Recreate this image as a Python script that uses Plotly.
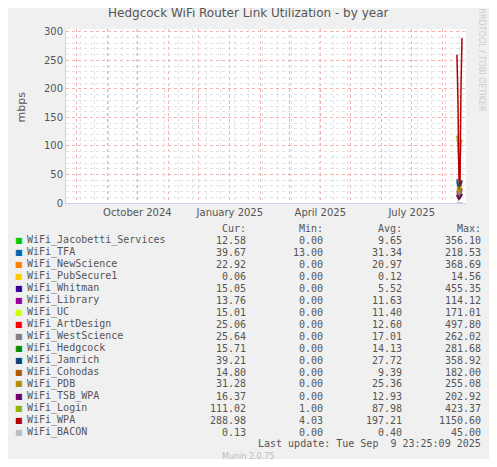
import plotly.graph_objects as go

# --- series (daily values near the end of the year window) ---
dates = ["2025-08-15", "2025-08-16", "2025-08-17", "2025-08-18", "2025-08-19", "2025-08-20"]

names = ["WiFi_Jacobetti_Services", "WiFi_TFA", "WiFi_NewScience", "WiFi_PubSecure1",
         "WiFi_Whitman", "WiFi_Library", "WiFi_UC", "WiFi_ArtDesign", "WiFi_WestScience",
         "WiFi_Hedgcock", "WiFi_Jamrich", "WiFi_Cohodas", "WiFi_PDB", "WiFi_TSB_WPA",
         "WiFi_Login", "WiFi_WPA", "WiFi_BACON"]
colors = ["#00CC00", "#0066B3", "#FF8000", "#FFCC00", "#330099", "#990099", "#CCFF00",
          "#FF0000", "#808080", "#008F00", "#00487D", "#B35A00", "#B38F00", "#6B006B",
          "#8FB300", "#B30000", "#BEBEBE"]
values = [
    [10, 9, 8, 11, 12, 12],
    [42, 35, 20, 30, 38, 40],
    [25, 22, 18, 20, 24, 23],
    [0.1, 0.1, 0.1, 0.1, 0.1, 0.1],
    [14, 10, 6, 8, 13, 15],
    [12, 11, 9, 10, 13, 14],
    [13, 11, 10, 12, 14, 15],
    [20, 15, 10, 12, 22, 25],
    [22, 18, 12, 15, 24, 26],
    [14, 12, 9, 11, 15, 16],
    [38, 30, 20, 25, 36, 39],
    [12, 10, 7, 9, 13, 15],
    [30, 28, 20, 22, 30, 31],
    [15, 12, 8, 10, 14, 16],
    [118, 100, 60, 70, 105, 111],
    [260, 180, 40, 30, 200, 289],
    [0.1, 0.1, 0.1, 0.1, 0.1, 0.1],
]
cur = ["12.58", "39.67", "22.92", "0.06", "15.05", "13.76", "15.01", "25.06", "25.64", "15.71",
       "39.21", "14.80", "31.28", "16.37", "111.02", "288.98", "0.13"]
mins = ["0.00", "13.00", "0.00", "0.00", "0.00", "0.00", "0.00", "0.00", "0.00", "0.00",
        "0.00", "0.00", "0.00", "0.00", "1.00", "4.03", "0.00"]
avgs = ["9.65", "31.34", "20.97", "0.12", "5.52", "11.63", "11.40", "12.60", "17.01", "14.13",
        "27.72", "9.39", "25.36", "12.93", "87.98", "197.21", "0.40"]
maxs = ["356.10", "218.53", "368.69", "14.56", "455.35", "114.12", "171.01", "497.80", "262.02",
        "281.68", "358.92", "182.00", "255.08", "202.92", "423.37", "1150.60", "45.00"]

# page pixels; the page body adds an 8px offset
OFF = 8
W, H = 497 - 2 * OFF, 467 - 2 * OFF
L, R, T, B = 66, 466, 29, 203


def px(x):
    return (x - L) / (R - L)


def py(y):
    return (B - y) / (B - T)


fig = go.Figure()
for n, c, v in zip(names, colors, values):
    fig.add_trace(go.Scatter(x=dates, y=v, mode="lines", line=dict(color=c, width=1.5),
                             name=n, showlegend=False))

mono = dict(family="DejaVu Sans Mono", size=10, color="#555555")
ann = []
for lbl, x in zip(["Cur:", "Min:", "Avg:", "Max:"], [248, 325, 404, 483]):
    ann.append(dict(x=px(x), y=py(228), text=lbl, xanchor="right", font=mono))
for i, n in enumerate(names):
    y = py(240 + 12 * i)
    ann.append(dict(x=px(13), y=y, text="<span style='color:%s'>■</span>" % colors[i],
                    xanchor="left", font=dict(family="DejaVu Sans", size=8)))
    ann.append(dict(x=px(25), y=y, text=n, xanchor="left", font=mono))
    for col, x in zip([cur, mins, avgs, maxs], [248, 325, 404, 483]):
        ann.append(dict(x=px(x), y=y, text=col[i], xanchor="right", font=mono))
ann.append(dict(x=px(483), y=py(443), text="Last update: Tue Sep  9 23:25:09 2025",
                xanchor="right", font=mono))
ann.append(dict(x=px(248), y=py(456), text="Munin 2.0.75", xanchor="center",
                font=dict(family="DejaVu Sans", size=8, color="#BBBBBB")))
ann.append(dict(x=px(12), y=py(107), text="mbps", textangle=-90,
                font=dict(family="DejaVu Sans", size=11, color="#555555")))
ann.append(dict(x=px(487), y=py(60), text="RRDTOOL / TOBI OETIKER", textangle=90,
                font=dict(family="DejaVu Sans", size=8, color="#CCCCCC")))
ann.append(dict(x=px(248), y=py(13), text="Hedgcock WiFi Router Link Utilization - by year",
                font=dict(family="DejaVu Sans", size=12, color="#555555")))
for a in ann:
    a.update(xref="paper", yref="paper", showarrow=False, yanchor="middle")

xr = ["2024-07-22", "2025-08-24"]
fig.update_layout(
    width=W, height=H,
    margin=dict(l=L - OFF, r=W - (R - OFF), t=T - OFF, b=H - (B - OFF)),
    paper_bgcolor="#F0F0F0", plot_bgcolor="white",
    annotations=ann,
    xaxis=dict(type="date", range=xr,
               tickvals=["2024-10-01", "2025-01-01", "2025-04-01", "2025-07-01"],
               ticktext=["October 2024", "January 2025", "April 2025", "July 2025"],
               showgrid=False, zeroline=False, showline=True, linecolor="#CCCCFF",
               tickfont=dict(family="DejaVu Sans", size=10, color="#555555"),
               minor=dict(dtick="M1", tick0="2024-08-01", showgrid=True,
                          gridcolor="#F2B0B0", griddash="dot")),
    xaxis2=dict(type="date", range=xr, overlaying="x", dtick=14 * 86400000,
                tick0="2024-07-22", showgrid=True, gridcolor="#E2E2E2", griddash="dot",
                showticklabels=False, zeroline=False),
    yaxis=dict(range=[0, 305], dtick=50, showgrid=True, gridcolor="#F2B0B0", griddash="dot",
               zeroline=False, showline=True, linecolor="#CCCCFF",
               tickfont=dict(family="DejaVu Sans", size=10, color="#555555"),
               minor=dict(dtick=10, showgrid=True, gridcolor="#E2E2E2", griddash="dot")),
)
fig.add_trace(go.Scatter(x=[xr[0]], y=[None], xaxis="x2", showlegend=False, hoverinfo="skip"))

fig.write_html("out.html")
